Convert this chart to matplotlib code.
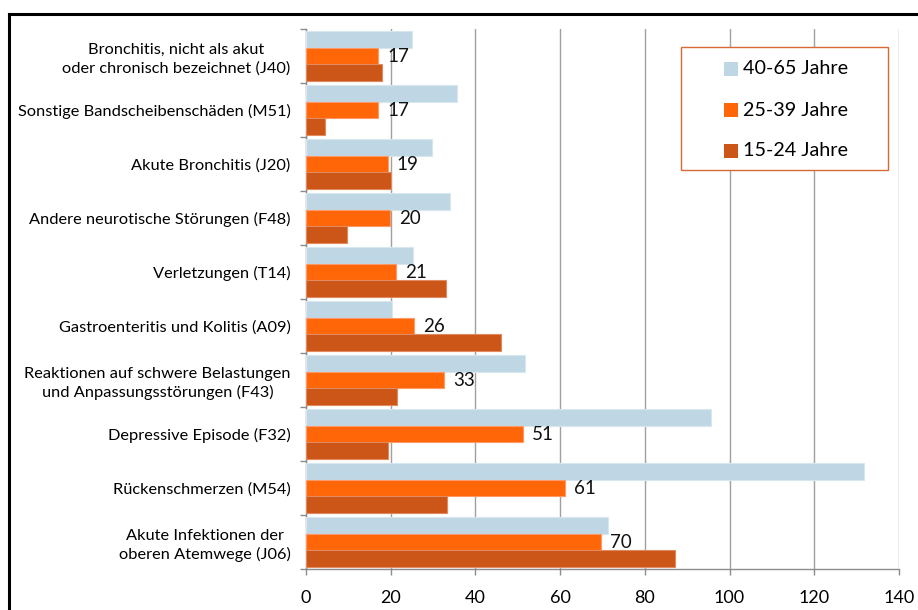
import matplotlib
matplotlib.use("Agg")
import matplotlib.pyplot as plt
import numpy as np
from matplotlib.patches import Rectangle
from matplotlib.lines import Line2D

plt.rcParams["font.family"] = ["Lato", "DejaVu Sans"]

# Diagnosen (von oben nach unten)
categories = [
    "Bronchitis, nicht als akut\noder chronisch bezeichnet (J40)",
    "Sonstige Bandscheibenschäden (M51)",
    "Akute Bronchitis (J20)",
    "Andere neurotische Störungen (F48)",
    "Verletzungen (T14)",
    "Gastroenteritis und Kolitis (A09)",
    "Reaktionen auf schwere Belastungen\nund Anpassungsstörungen (F43)",
    "Depressive Episode (F32)",
    "Rückenschmerzen (M54)",
    "Akute Infektionen der\noberen Atemwege (J06)",
]
jahre_40_65 = [25.0, 35.6, 29.7, 33.9, 25.2, 20.3, 51.7, 95.6, 131.8, 71.2]
jahre_25_39 = [17.0, 17.1, 19.3, 19.8, 21.2, 25.6, 32.6, 51.2, 61.2, 69.6]
jahre_15_24 = [17.9, 4.5, 20.0, 9.6, 33.0, 46.0, 21.4, 19.4, 33.4, 87.1]
series_names = ["40-65 Jahre", "25-39 Jahre", "15-24 Jahre"]
x_ticks = [0, 20, 40, 60, 80, 100, 120, 140]

colors = ["#BFD7E4", "#FF6608", "#CC5518"]
edges = ["#D8E7EF", "#FF9A66", "#E08A5E"]

W, H = 918, 610
fig = plt.figure(figsize=(W / 100, H / 100), dpi=100)
ax = fig.add_axes([306 / W, 1 - 569 / H, (899 - 306) / W, (569 - 29) / H])

n = len(categories)
y = np.arange(n)[::-1].astype(float)
h = 0.31
series = [jahre_40_65, jahre_25_39, jahre_15_24]
offsets = [h, 0, -h]
for vals, off, c, ec in zip(series, offsets, colors, edges):
    ax.barh(y + off, vals, height=h, color=c, edgecolor=ec, linewidth=0.8, zorder=3)

# Datenbeschriftung nur für 25-39 Jahre
for yi, v in zip(y, jahre_25_39):
    ax.annotate(f"{v:.0f}", (v, yi), xytext=(6.5, 0), textcoords="offset points",
                va="center", ha="left", fontsize=13.5, color="#111111", zorder=4)

ax.set_xlim(0, 140)
ax.set_ylim(-0.5, n - 0.5)
ax.set_xticks(x_ticks)
ax.set_xticklabels([str(t) for t in x_ticks], fontsize=13)
ax.set_yticks(y)
ax.set_yticklabels(categories, fontsize=11.8, multialignment="center", linespacing=1.35)
ax.set_yticks(np.arange(-0.5, n, 1.0), minor=True)
ax.tick_params(axis="y", which="major", length=0, pad=11)
ax.tick_params(axis="y", which="minor", length=4, color="#8C8C8C", width=1)
ax.tick_params(axis="x", length=4, color="#8C8C8C", width=1, pad=11)

ax.grid(axis="x", color="#A0A0A0", linewidth=1, zorder=0)
ax.set_axisbelow(True)
for s in ["top", "right"]:
    ax.spines[s].set_visible(False)
for s in ["left", "bottom"]:
    ax.spines[s].set_color("#8C8C8C")
    ax.spines[s].set_linewidth(1)

# Legende (Excel-Stil)
def fx(px):
    return px / W

def fy(py):
    return 1 - py / H

fig.patches.append(Rectangle((fx(681), fy(170)), fx(888) - fx(681), fy(47) - fy(170),
                             transform=fig.transFigure, facecolor="white",
                             edgecolor="#D86A34", linewidth=1, zorder=5))
for i, (name, c) in enumerate(zip(series_names, colors)):
    cy = 69 + i * 41
    fig.patches.append(Rectangle((fx(724), fy(cy + 7)), fx(14), 14 / H,
                                 transform=fig.transFigure, facecolor=c,
                                 edgecolor="none", zorder=6))
    fig.text(fx(743), fy(cy), name, fontsize=14.2, va="center", ha="left", zorder=7)

# äußerer Rahmen
fig.add_artist(Line2D([fx(9), fx(9)], [fy(14), 0], transform=fig.transFigure,
                      color="black", linewidth=2.2))
fig.add_artist(Line2D([fx(9), 1], [fy(14), fy(14)], transform=fig.transFigure,
                      color="black", linewidth=2.2))

fig.savefig("out.png", dpi=100, facecolor="white")
